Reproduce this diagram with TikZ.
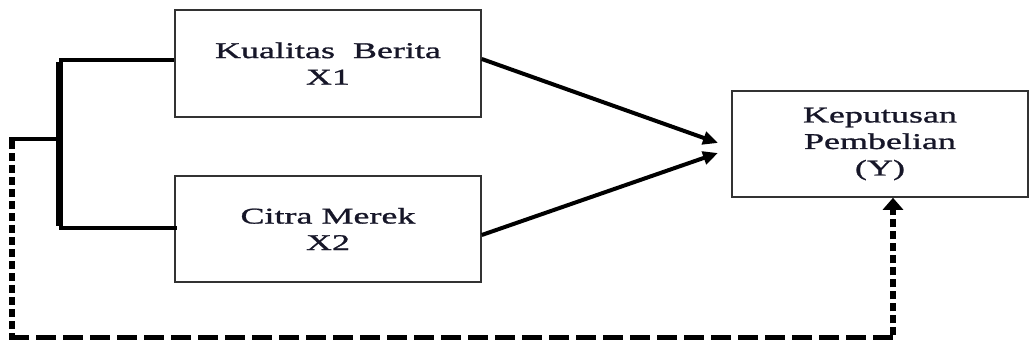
\documentclass[tikz,border=0pt]{standalone}
\usepackage{fontspec}
\setmainfont{Liberation Serif}[FakeStretch=1.6,FakeBold=1.2]
\usetikzlibrary{arrows.meta}
\definecolor{txt}{RGB}{22,22,40}
\definecolor{bord}{RGB}{50,50,50}
\tikzset{
  varbox/.style={draw=bord, line width=1.6pt, inner sep=0pt, align=center,
    text=txt, font=\fontsize{22.5}{26.5}\selectfont},
  hline/.style={line width=4.6pt, line cap=butt},
  vline/.style={line width=7pt, line cap=butt},
  arr/.style={line width=4pt, -{Triangle[length=15pt,width=13pt]}},
  hdash/.style={line width=5pt, dash pattern=on 20pt off 7pt},
  vdash/.style={line width=6pt, dash pattern=on 8pt off 4pt},
}
\begin{document}
\begin{tikzpicture}[x=1pt,y=-1pt]
\useasboundingbox (0,0) rectangle (1029,344);
\node[varbox, minimum width=306pt, minimum height=107pt] (X1) at (328,63.5) {Kualitas\ \ Berita\\X1};
\node[varbox, minimum width=306pt, minimum height=106pt] (X2) at (328,229) {Citra Merek\\X2};
\node[varbox, minimum width=296pt, minimum height=106pt] (Y) at (880,144) {Keputusan\\Pembelian\\(Y)};
\coordinate (bt) at (59,60);
\coordinate (bb) at (59,228);
\coordinate (bm) at (59,139);
\coordinate (dl) at (12,139);
\coordinate (dc) at (12,338);
\coordinate (dr) at (893,338);
\coordinate (t1) at (718,143);
\coordinate (t2) at (718,153);
% bracket
\draw[hline] ([yshift=3.5pt]X1.west) -- (bt);
\draw[vline] ([yshift=-2.3pt]bt) -- ([yshift=2.3pt]bb);
\draw[hline] (bb) -- ([xshift=3pt,yshift=1pt]X2.west);
\draw[hline] (bm) -- ([xshift=-3pt]dl);
% dashed path
\draw[vdash] ([yshift=-2.5pt]dl) -- ([yshift=2.5pt]dc);
\draw[hdash] ([xshift=-3pt]dc) -- ([xshift=3pt]dr);
\draw[vdash, -{Triangle[length=12pt,width=20pt]}] ([yshift=2.5pt]dr) -- (Y.south -| dr);
% arrows
\draw[arr] ([yshift=4.5pt]X1.east) -- (t1);
\draw[arr] ([yshift=-6pt]X2.east) -- (t2);
\end{tikzpicture}
\end{document}
